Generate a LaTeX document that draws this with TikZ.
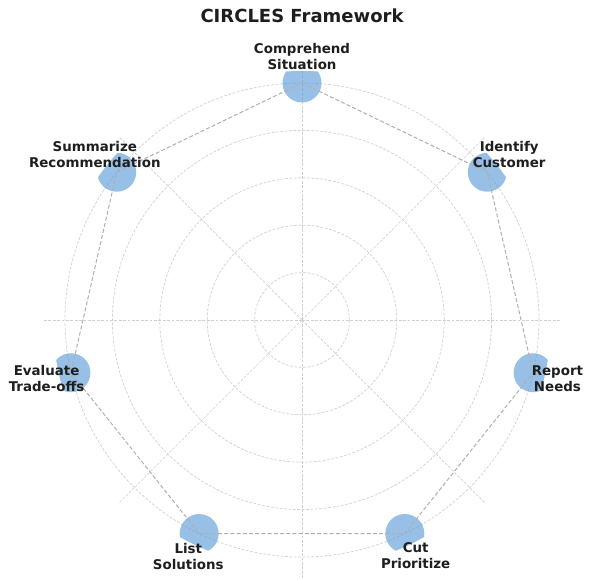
\documentclass[tikz,border=0pt]{standalone}
\usepackage{fontspec}
\setmainfont{DejaVu Sans}
\usetikzlibrary{calc}
\definecolor{gridc}{RGB}{208,208,208}
\definecolor{connc}{RGB}{175,175,175}
\definecolor{dotc}{RGB}{84,150,215}
\definecolor{txt}{RGB}{30,30,30}
\tikzset{
  gridline/.style={draw=gridc, line width=0.7pt, dash pattern=on 2.8pt off 1.6pt},
  conn/.style={draw=connc, line width=1pt, dash pattern=on 4pt off 2.2pt},
  dot/.style={circle, fill=dotc, fill opacity=0.6, minimum size=39pt, inner sep=0pt},
  lbl/.style={align=center, text=txt, font=\bfseries\fontsize{13.4}{16}\selectfont, inner sep=0pt},
  ttl/.style={text=txt, font=\bfseries\fontsize{18}{22}\selectfont, inner sep=0pt}
}
\begin{document}
\begin{tikzpicture}[x=1pt,y=1pt]
\useasboundingbox (0,0) rectangle (592,580);
\coordinate (O) at (302,260);
% grid
\foreach \r in {47.4,94.8,142.2,189.6,237} \draw[gridline] (O) circle[radius=\r pt];
\foreach \a in {0,45,...,315} \draw[gridline] (O) -- ($(O)+(\a:258)$);
% nodes
\begin{scope}
\clip (O) circle[radius=249pt];
\foreach \k in {1,...,7} {
  \pgfmathsetmacro{\t}{90-(\k-1)*360/7}
  \node[dot] (n\k) at ($(O)+(\t:237)$) {};
}
\end{scope}
\draw[conn] (n1.center) -- (n2.center) -- (n3.center) -- (n4.center) -- (n5.center) -- (n6.center) -- (n7.center) -- cycle;
% labels
\node[lbl] (l1) at ($(O)+(90:263)$) {Comprehend\\Situation};
\node[lbl] (l2) at ($(O)+({90-360/7}:265)$) {Identify\\Customer};
\node[lbl] (l3) at ($(O)+({90-2*360/7}:262)$) {Report\\Needs};
\node[lbl] (l4) at ($(O)+({90-3*360/7}:262)$) {Cut\\Prioritize};
\node[lbl] (l5) at ($(O)+({90-4*360/7}:262)$) {List\\Solutions};
\node[lbl] (l6) at ($(O)+({90-5*360/7}:262)$) {Evaluate\\Trade-offs};
\node[lbl] (l7) at ($(O)+({90-6*360/7}:265)$) {Summarize\\Recommendation};
\node[ttl] (title) at (302,564) {CIRCLES Framework};
\end{tikzpicture}
\end{document}
